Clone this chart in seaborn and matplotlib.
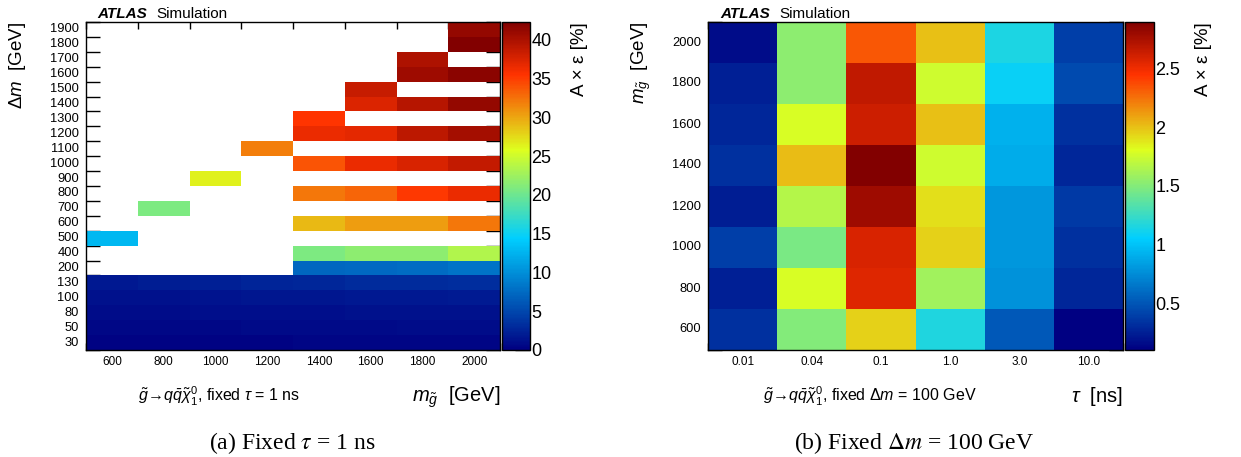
import numpy as np
import pandas as pd
import matplotlib
matplotlib.use("Agg")
import matplotlib.pyplot as plt
import seaborn as sns
from matplotlib.colors import LinearSegmentedColormap

nan = np.nan

# ---------------- data: (a) fixed tau = 1 ns ----------------
# Delta m rows, bottom -> top
dm_values = [30, 50, 80, 100, 130, 200, 400, 500, 600, 700, 800, 900, 1000,
             1100, 1200, 1300, 1400, 1500, 1600, 1700, 1800, 1900]
m_gluino = [600, 800, 1000, 1200, 1400, 1600, 1800, 2000]

#            30    50    80   100   130   200   400   500   600   700   800   900  1000  1100  1200  1300  1400  1500  1600  1700  1800  1900
acc_m600 = [0.25, 0.6, 0.9, 1.2, 1.8, nan, nan, 12.8, nan, nan, nan, nan, nan, nan, nan, nan, nan, nan, nan, nan, nan, nan]
acc_m800 = [0.25, 0.6, 0.95, 1.3, 2.0, nan, nan, nan, nan, 20.9, nan, nan, nan, nan, nan, nan, nan, nan, nan, nan, nan, nan]
acc_m1000 = [0.3, 0.65, 1.0, 1.4, 2.2, nan, nan, nan, nan, nan, nan, 26.4, nan, nan, nan, nan, nan, nan, nan, nan, nan, nan]
acc_m1200 = [0.3, 0.7, 1.05, 1.5, 2.5, nan, nan, nan, nan, nan, nan, nan, nan, 31.9, nan, nan, nan, nan, nan, nan, nan, nan]
acc_m1400 = [0.35, 0.75, 1.1, 1.6, 2.8, 7.2, 20.9, nan, 29.1, nan, 32.2, nan, 34.0, nan, 36.5, 35.4, nan, nan, nan, nan, nan, nan]
acc_m1600 = [0.4, 0.8, 1.2, 1.7, 3.0, 7.4, 21.6, nan, 30.4, nan, 33.1, nan, 36.5, nan, 36.9, nan, 37.4, 38.6, nan, nan, nan, nan]
acc_m1800 = [0.4, 0.85, 1.25, 1.8, 3.1, 7.6, 21.6, nan, 30.4, nan, 35.2, nan, 37.6, nan, 39.0, nan, 39.4, nan, 40.8, 39.9, nan, nan]
acc_m2000 = [0.45, 0.9, 1.3, 1.9, 3.3, 8.0, 23.5, nan, 32.2, nan, 36.5, nan, 38.7, nan, 40.4, nan, 41.3, nan, 41.7, nan, 42.3, 41.3]

# ---------------- data: (b) fixed Delta m = 100 GeV ----------------
tau_labels = ["0.01", "0.04", "0.1", "1.0", "3.0", "10.0"]
m_gluino_b = [600, 800, 1000, 1200, 1400, 1600, 1800, 2000]  # bottom -> top

acc_tau001 = [0.33, 0.25, 0.39, 0.24, 0.33, 0.28, 0.25, 0.16]
acc_tau004 = [1.50, 1.79, 1.47, 1.66, 2.02, 1.79, 1.53, 1.53]
acc_tau01 = [1.95, 2.56, 2.59, 2.80, 2.90, 2.63, 2.68, 2.33]
acc_tau1 = [1.16, 1.60, 1.95, 1.91, 1.75, 2.01, 1.75, 2.01]
acc_tau3 = [0.51, 0.78, 0.80, 0.80, 0.90, 0.92, 1.08, 1.15]
acc_tau10 = [0.10, 0.28, 0.33, 0.37, 0.28, 0.33, 0.45, 0.39]

# ---------------- style ----------------
sns.set_theme(style="white")
plt.rcParams["font.family"] = ["Liberation Sans", "DejaVu Sans"]
plt.rcParams["mathtext.fontset"] = "custom"
plt.rcParams["mathtext.rm"] = "Liberation Sans"
plt.rcParams["mathtext.it"] = "Liberation Sans:italic"
plt.rcParams["mathtext.bf"] = "Liberation Sans:bold"
for k in ("text.color", "axes.labelcolor", "xtick.color", "ytick.color", "axes.edgecolor"):
    plt.rcParams[k] = "black"

cmap = LinearSegmentedColormap.from_list(
    "root_rainbow",
    [(0.00, (0.00, 0.00, 0.51)),
     (0.34, (0.00, 0.81, 1.00)),
     (0.61, (0.87, 1.00, 0.12)),
     (0.84, (1.00, 0.20, 0.00)),
     (1.00, (0.51, 0.00, 0.00))], N=255)

W, H = 1241, 457
fig = plt.figure(figsize=(W / 100, H / 100), dpi=100)


def frac_box(x0, y0, x1, y1):
    return [x0 / W, 1 - y1 / H, (x1 - x0) / W, (y1 - y0) / H]


def ftext(x, y, s, **kw):
    fig.text(x / W, 1 - y / H, s, color="black", **kw)


# ---------------- left panel ----------------
df_a = pd.DataFrame({str(m): col for m, col in zip(
    m_gluino, [acc_m600, acc_m800, acc_m1000, acc_m1200,
               acc_m1400, acc_m1600, acc_m1800, acc_m2000])},
    index=[str(d) for d in dm_values]).iloc[::-1]

axA = fig.add_axes(frac_box(86, 22, 500, 350))
caxA = fig.add_axes(frac_box(502, 22, 530, 350))
sns.heatmap(df_a, ax=axA, cbar_ax=caxA, cmap=cmap, vmin=0, vmax=42.3)

# ---------------- right panel ----------------
df_b = pd.DataFrame({t: col for t, col in zip(
    tau_labels, [acc_tau001, acc_tau004, acc_tau01, acc_tau1, acc_tau3, acc_tau10])},
    index=[str(m) for m in m_gluino_b]).iloc[::-1]

axB = fig.add_axes(frac_box(708, 22, 1123, 350))
caxB = fig.add_axes(frac_box(1125, 22, 1154, 350))
sns.heatmap(df_b, ax=axB, cbar_ax=caxB, cmap=cmap, vmin=0.1, vmax=2.9)


def style_axes(ax, df, ylen, xlen, ysize, xsize):
    nr, nc = df.shape
    ax.set_xticks(np.arange(nc) + 0.5)
    ax.set_xticklabels(df.columns, rotation=0, fontsize=xsize)
    ax.set_yticks(np.arange(nr) + 0.5)
    ax.set_yticklabels(df.index, rotation=0, fontsize=ysize)
    ax.set_xticks(np.arange(nc + 1), minor=True)
    ax.set_yticks(np.arange(nr + 1), minor=True)
    ax.tick_params(which="major", length=0, colors="black")
    ax.tick_params(axis="x", which="major", pad=4)
    ax.tick_params(axis="y", which="major", pad=5)
    ax.tick_params(axis="y", which="minor", direction="in", length=ylen,
                   width=1, left=True, right=True, color="black")
    ax.tick_params(axis="x", which="minor", direction="in", length=xlen,
                   width=1, top=True, bottom=True, color="black")
    ax.set_xlabel("")
    ax.set_ylabel("")
    for s in ax.spines.values():
        s.set_visible(True)
        s.set_color("black")
        s.set_linewidth(1)


def style_cbar(ax, cax, ticks, labels):
    cb = ax.collections[0].colorbar
    cb.outline.set_visible(True)
    cb.outline.set_edgecolor("black")
    cb.outline.set_linewidth(1)
    cb.set_ticks(ticks)
    cb.set_ticklabels(labels)
    cax.tick_params(axis="y", which="major", direction="in", length=11,
                    width=1, right=True, left=False, labelsize=13, pad=1,
                    colors="black")
    cax.minorticks_off()


style_axes(axA, df_a, 10, 5, 9.3, 8.5)
style_axes(axB, df_b, 10, 5, 9.3, 8.5)
style_cbar(axA, caxA, [0, 5, 10, 15, 20, 25, 30, 35, 40],
           ["0", "5", "10", "15", "20", "25", "30", "35", "40"])
style_cbar(axB, caxB, [0.5, 1.0, 1.5, 2.0, 2.5], ["0.5", "1", "1.5", "2", "2.5"])

# ---------------- texts ----------------
for x0 in (97, 720):
    ftext(x0, 18, "ATLAS", fontsize=11, fontweight="bold", fontstyle="italic",
          va="baseline", ha="left")
    ftext(x0 + 59, 18, "Simulation", fontsize=11, va="baseline", ha="left")

# axis titles
ftext(18, 22, r"$\Delta m$  [GeV]", rotation=90, fontsize=13.5, ha="center", va="top")
ftext(641, 22, r"$m_{\tilde{g}}$  [GeV]", rotation=90, fontsize=13.5, ha="center", va="top")
ftext(580, 22, "A × ε [%]", rotation=90, fontsize=13.5, ha="center", va="top")
ftext(1203, 22, "A × ε [%]", rotation=90, fontsize=13.5, ha="center", va="top")

ftext(500, 397, r"$m_{\tilde{g}}$  [GeV]", fontsize=14.5, ha="right", va="center")
ftext(1123, 397, r"$\tau$  [ns]", fontsize=14.5, ha="right", va="center")

ftext(138, 396, r"$\tilde{g}\!\rightarrow\! q\bar{q}\tilde{\chi}^{0}_{1}$, fixed $\tau$ = 1 ns",
      fontsize=11.5, ha="left", va="center")
ftext(763, 396, r"$\tilde{g}\!\rightarrow\! q\bar{q}\tilde{\chi}^{0}_{1}$, fixed $\Delta m$ = 100 GeV",
      fontsize=11.5, ha="left", va="center")

# captions
ftext(292, 443, r"(a) Fixed $\tau$ = 1 ns", fontsize=17, ha="center", va="center",
      fontfamily="Liberation Serif", math_fontfamily="stix")
ftext(914, 443, r"(b) Fixed $\Delta m$ = 100 GeV", fontsize=17, ha="center", va="center",
      fontfamily="Liberation Serif", math_fontfamily="stix")

fig.savefig("out.png", dpi=100)
